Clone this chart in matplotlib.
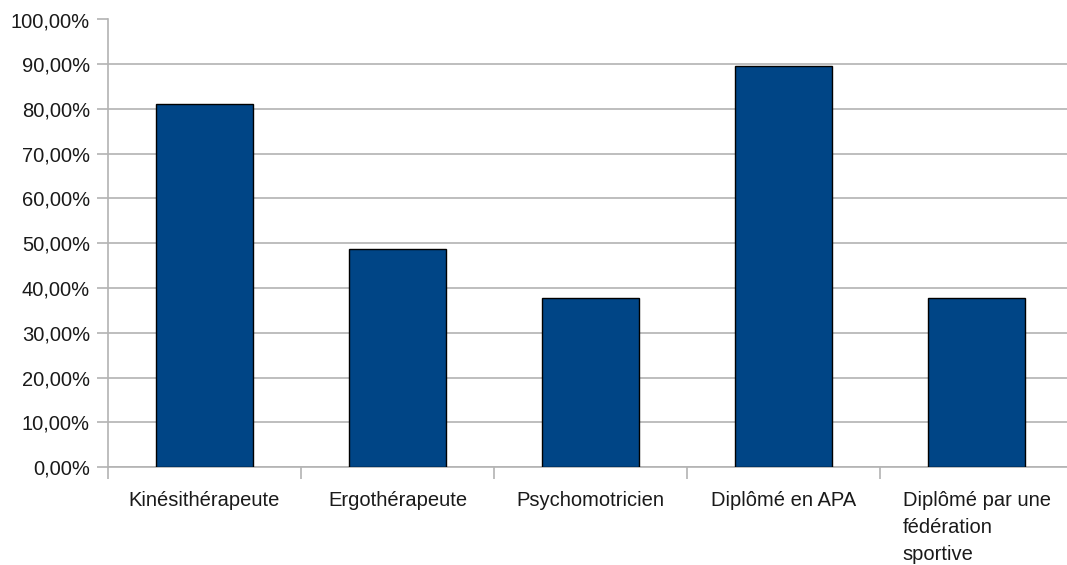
import numpy as np
import matplotlib

matplotlib.use('Agg')
import matplotlib.pyplot as plt
from matplotlib.ticker import FuncFormatter, MultipleLocator, FixedLocator

plt.rcParams['font.family'] = ['Liberation Sans', 'DejaVu Sans']
plt.rcParams['font.size'] = 14.5

categories = ["Kinésithérapeute", "Ergothérapeute", "Psychomotricien",
              "Diplômé en APA", "Diplômé par une\nfédération\nsportive"]
values = [81.08, 48.65, 37.84, 89.5, 37.84]

grid_color = "#b3b3b3"
bar_color = "#004586"

fig = plt.figure(figsize=(10.67, 5.65), dpi=100)
W, H = 1067, 565
# plot area: left axis at x=108, 0% at y=467, 100% at y=19.5, 193 px per category
ax = fig.add_axes([108 / W, (H - 467) / H, 5 * 193 / W, 447.5 / H])

x = np.arange(len(categories))
ax.bar(x, values, width=0.505, color=bar_color, edgecolor="black",
       linewidth=1.0, zorder=3)

ax.set_xlim(-0.5, len(categories) - 0.5)
ax.set_ylim(0, 100)

ax.yaxis.set_major_locator(MultipleLocator(10))
ax.yaxis.set_major_formatter(FuncFormatter(lambda v, p: f"{v:.2f}%".replace(".", ",")))
ax.grid(axis="y", color=grid_color, linewidth=1.2, zorder=0)

ax.set_xticks(x)
ax.set_xticklabels(categories, multialignment="left", linespacing=1.55, va="top",
                   color="#1a1a1a")
ax.xaxis.set_minor_locator(FixedLocator(np.arange(-0.5, len(categories), 1.0)))
ax.tick_params(axis="x", which="major", length=0, pad=17)
ax.tick_params(axis="x", which="minor", length=8.5, width=1.2, color=grid_color)
ax.tick_params(axis="y", length=8, width=1.2, color=grid_color, pad=5,
               labelcolor="#1a1a1a")

for side in ["top", "right"]:
    ax.spines[side].set_visible(False)
for side in ["left", "bottom"]:
    ax.spines[side].set_color(grid_color)
    ax.spines[side].set_linewidth(1.2)

plt.savefig("out.png", dpi=100)
